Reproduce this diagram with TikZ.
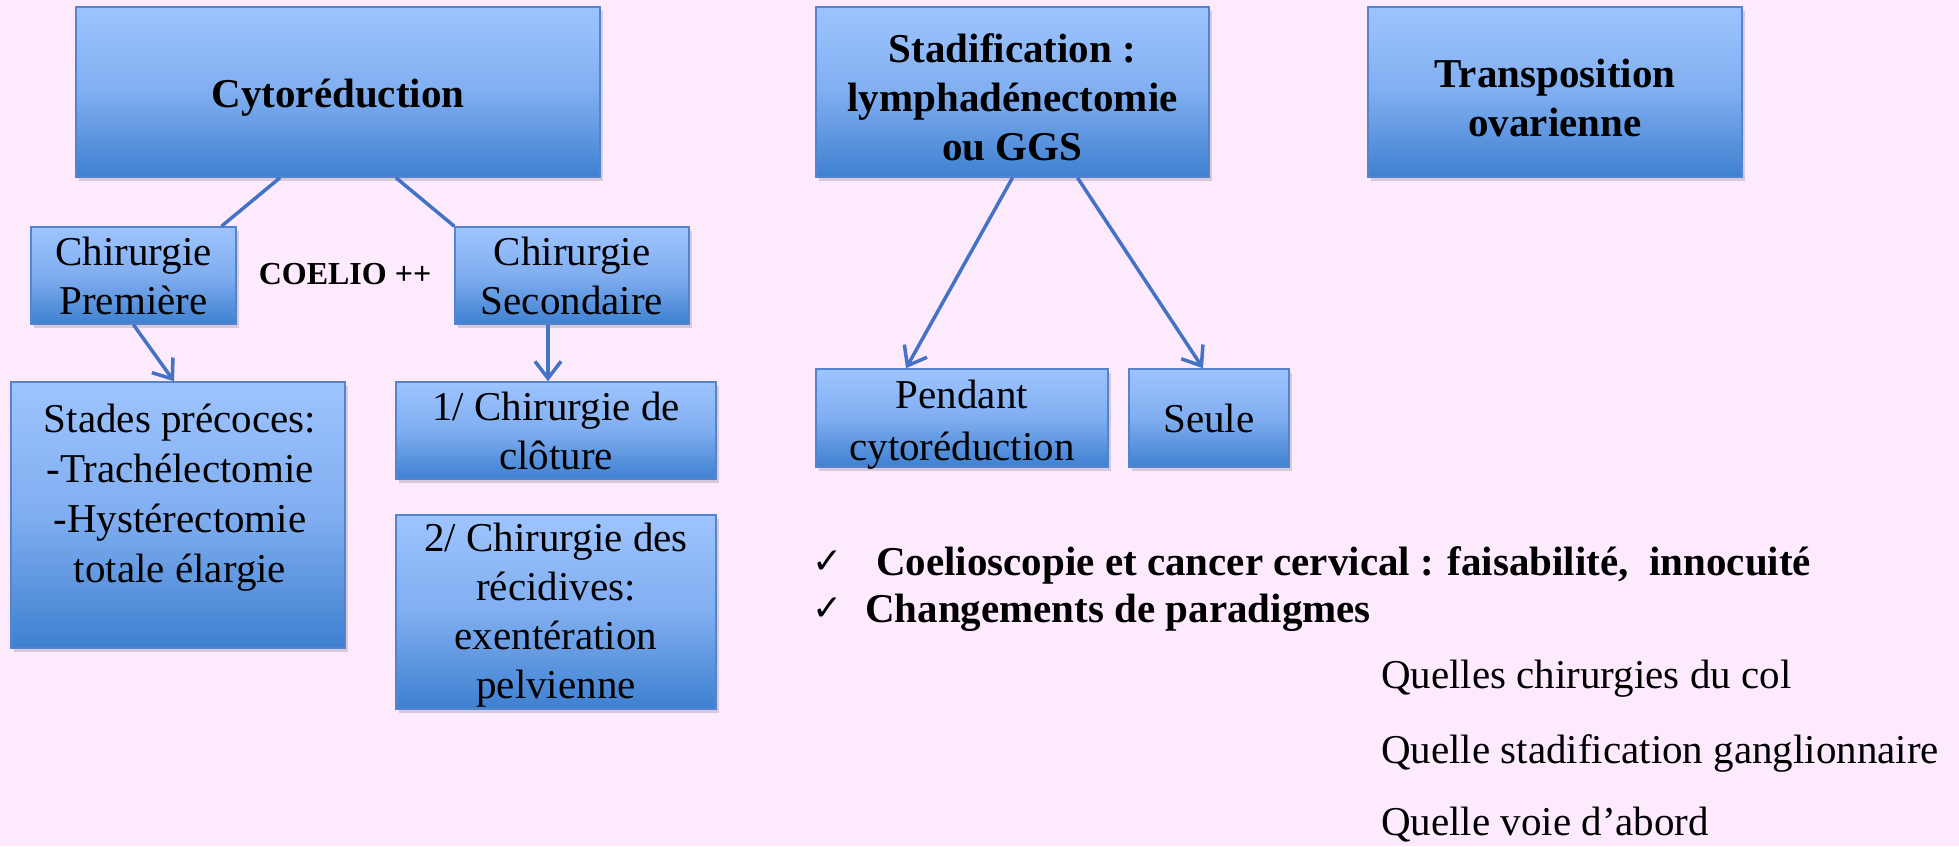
\documentclass[tikz,border=0pt]{standalone}
\usepackage{fontspec}
\setmainfont{Liberation Serif}
\newfontfamily\checkfont{DejaVu Sans}
\usetikzlibrary{arrows.meta, shadows}
\definecolor{bgpink}{RGB}{253,235,253}
\definecolor{boxtop}{RGB}{158,196,255}
\definecolor{boxmid}{RGB}{128,174,240}
\definecolor{boxbot}{RGB}{62,128,208}
\definecolor{boxedge}{RGB}{84,132,206}
\definecolor{linkblue}{RGB}{68,114,196}
\tikzstyle{box}=[rectangle, draw=boxedge, line width=1.5pt, top color=boxtop, bottom color=boxbot, middle color=boxmid, align=center, inner sep=0, font=\fontsize{41}{49}\selectfont, drop shadow={shadow xshift=3pt, shadow yshift=-4pt, opacity=0.25, fill=black!60}]
\tikzstyle{bigbox}=[box, font=\fontsize{41}{49}\selectfont\bfseries]
\tikzstyle{boxtext}=[inner sep=0, align=center, anchor=north, font=\fontsize{41}{49}\selectfont]
\tikzstyle{plain}=[inner sep=0, anchor=base west, font=\fontsize{41}{49}\selectfont]
\tikzstyle{tick}=[inner sep=0, anchor=base west, font=\checkfont\fontsize{36}{36}\selectfont]
\tikzstyle{link}=[linkblue, line width=3.5pt]
\tikzstyle{arrow}=[link, -{Straight Barb[length=17pt, width=26pt]}]

\begin{document}
\begin{tikzpicture}[x=1pt, y=-1pt]
\useasboundingbox (0,0) rectangle (1959,846);
\fill[bgpink] (0,0) rectangle (1959,846);

% left part
\node[bigbox, minimum width=524pt, minimum height=170pt] (cyto) at (338,92) {\rule{0pt}{40pt}Cytoréduction};
\node[box, minimum width=205pt, minimum height=97pt] (prem) at (133.5,275.5) {Chirurgie\\Première};
\node[box, minimum width=234pt, minimum height=97pt] (sec) at (572,275.5) {Chirurgie\\Secondaire};
\node[inner sep=0, font=\fontsize{32}{36}\selectfont\bfseries] (coelio) at (345,274) {COELIO ++};
\node[box, minimum width=334pt, minimum height=266pt] (stades) at (178,515) {};
\node[boxtext, font=\fontsize{41}{50}\selectfont] (stadestext) at (180,404) {Stades précoces:\\ -Trachélectomie\\-Hystérectomie\\totale élargie};
\node[box, minimum width=320pt, minimum height=97pt] (clot) at (556,430.5) {1/ Chirurgie de\\clôture};
\node[box, minimum width=320pt, minimum height=194pt] (recid) at (556,612) {};
\node[boxtext] (recidtext) at (556,523) {2/ Chirurgie des\\récidives:\\exentération\\pelvienne};

\draw[link] ([xshift=-58pt]cyto.south) -- ([xshift=88pt]prem.north);
\draw[link] ([xshift=58pt]cyto.south) -- (sec.north west);
\draw[arrow] (prem.south) -- ([xshift=-4pt]stades.north);
\draw[arrow] ([xshift=-24pt]sec.south) -- ([xshift=-8pt]clot.north);

% right part
\node[bigbox, minimum width=393pt, minimum height=170pt] (stadif) at (1012.5,92) {\rule{0pt}{40pt}Stadification :\\lymphadénectomie\\ou GGS};
\node[bigbox, minimum width=374pt, minimum height=170pt] (transp) at (1555,92) {\rule{0pt}{40pt}Transposition\\ovarienne};
\node[box, minimum width=292pt, minimum height=98pt] (pendant) at (962,418) {};
\node[boxtext, font=\fontsize{41}{52}\selectfont] (pendanttext) at (962,380) {Pendant\\cytoréduction};
\node[box, minimum width=160pt, minimum height=98pt] (seule) at (1209,418) {Seule};

\draw[arrow] (stadif.south) -- ([xshift=-56pt]pendant.north);
\draw[arrow] ([xshift=65pt]stadif.south) -- ([xshift=-6pt]seule.north);

\node[tick] (tick1) at (812,573) {✓};
\node[plain, font=\fontsize{41}{49}\selectfont\bfseries] (faisab) at (876,575) {Coelioscopie et cancer cervical : faisabilité,\ \ innocuité};
\node[tick] (tick2) at (812,620) {✓};
\node[plain, font=\fontsize{41}{49}\selectfont\bfseries] (paradig) at (865,622) {Changements de paradigmes};

\node[plain] (col) at (1381,688) {Quelles chirurgies du col};
\node[plain] (ggl) at (1381,763) {Quelle stadification ganglionnaire};
\node[plain] (voie) at (1381,835) {Quelle voie d’abord};
\end{tikzpicture}
\end{document}
